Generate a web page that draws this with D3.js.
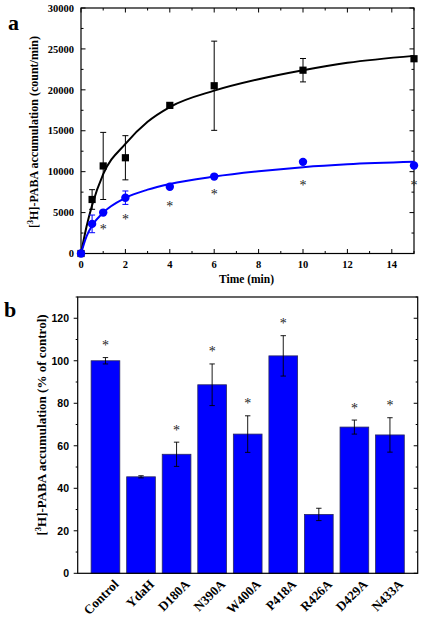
<!DOCTYPE html>
<html><head><meta charset="utf-8">
<script src="https://cdn.jsdelivr.net/npm/d3@7"></script>
<style>body{margin:0;background:#fff}svg{display:block}.star{opacity:0.99}</style>
</head><body>
<script>
// ---- Panel a data ----
const times = [0, 0.5, 1, 2, 4, 6, 10, 15];
const blackValues = [0, 6600, 10700, 11700, 18100, 20500, 22400, 23800];
const blackErrors = [0, 1200, 4100, 2700, 0, 5450, 1430, 0];
const blueValues = [0, 3620, 5000, 6820, 8150, 9400, 11200, 10750];
const blueErrors = [0, 1080, 0, 820, 0, 0, 0, 0];
const curveTimes = [0, 0.25, 0.5, 1, 2, 3, 4, 6, 8, 10, 12, 15];
const blackCurve = [0, 3300, 5900, 9700, 13400, 16100, 17900, 19900, 21300, 22400, 23300, 24150];
const blueCurve = [0, 2100, 3400, 5000, 6800, 7800, 8500, 9400, 10050, 10550, 10900, 11200];
const starTimesA = [1, 2, 4, 6, 10, 15];
const starLevelsA = [3200, 4450, 6000, 7400, 8550, 8600];
const xTicksA = [0, 2, 4, 6, 8, 10, 12, 14];
const yTicksA = [0, 5000, 10000, 15000, 20000, 25000, 30000];

// ---- Panel b data ----
const categories = ["Control", "YdaH", "D180A", "N390A", "W400A", "P418A", "R426A", "D429A", "N433A"];
const barValues = [100, 45.4, 56.0, 88.7, 65.5, 102.3, 27.7, 68.8, 65.1];
const barErrors = [1.5, 0.5, 5.7, 9.8, 8.6, 9.5, 2.9, 3.3, 8.1];
const barStars = [true, false, true, true, true, true, false, true, true];
const yTicksB = [0, 20, 40, 60, 80, 100, 120];

const W = 422, H = 618;
const svg = d3.select("body").append("svg").attr("width", W).attr("height", H);
const serif = "'Liberation Serif','Times New Roman',Times,serif";
const sans = "'Liberation Sans',Arial,Helvetica,sans-serif";
const BLUE = "#0000ff";

// ================= Panel a =================
const A = {l: 81, r: 414, t: 8, b: 253.5};
const xA = d3.scaleLinear().domain([0, 15]).range([A.l, A.r]);
const yA = d3.scaleLinear().domain([0, 30000]).range([A.b, A.t]);
const gA = svg.append("g");

// ticks (inward on all four sides)
const xMinorA = d3.range(0, 16, 1);
const yMinorA = d3.range(0, 30001, 2500);
xMinorA.forEach(v => {
  const len = v % 2 === 0 ? 4.5 : 2.5;
  gA.append("line").attr("x1", xA(v)).attr("x2", xA(v)).attr("y1", A.b).attr("y2", A.b - len).attr("stroke", "#000").attr("stroke-width", 1);
  gA.append("line").attr("x1", xA(v)).attr("x2", xA(v)).attr("y1", A.t).attr("y2", A.t + len).attr("stroke", "#000").attr("stroke-width", 1);
});
yMinorA.forEach(v => {
  const len = v % 5000 === 0 ? 4.5 : 2.5;
  gA.append("line").attr("x1", A.l).attr("x2", A.l + len).attr("y1", yA(v)).attr("y2", yA(v)).attr("stroke", "#000").attr("stroke-width", 1);
  gA.append("line").attr("x1", A.r).attr("x2", A.r - len).attr("y1", yA(v)).attr("y2", yA(v)).attr("stroke", "#000").attr("stroke-width", 1);
});
gA.append("rect").attr("x", A.l).attr("y", A.t).attr("width", A.r - A.l).attr("height", A.b - A.t)
  .attr("fill", "none").attr("stroke", "#000").attr("stroke-width", 1.2);

// tick labels
gA.selectAll(".xl").data(xTicksA).join("text")
  .attr("x", d => xA(d)).attr("y", 268).attr("text-anchor", "middle")
  .attr("font-family", serif).attr("font-weight", "bold").attr("font-size", 10.5).text(d => d);
gA.selectAll(".yl").data(yTicksA).join("text")
  .attr("x", 74).attr("y", d => yA(d)).attr("dy", "0.35em").attr("text-anchor", "end")
  .attr("font-family", serif).attr("font-weight", "bold").attr("font-size", 10.5).text(d => d);

// axis titles
gA.append("text").attr("x", xA(7.5) - 1).attr("y", 283).attr("text-anchor", "middle")
  .attr("font-family", serif).attr("font-weight", "bold").attr("font-size", 11.5).text("Time (min)");
const tA = gA.append("text").attr("transform", "translate(38,132) rotate(-90)").attr("text-anchor", "middle")
  .attr("font-family", serif).attr("font-weight", "bold").attr("font-size", 12);
tA.append("tspan").text("[");
tA.append("tspan").attr("font-size", 8).attr("dy", -5).text("3");
tA.append("tspan").attr("dy", 5).text("H]-PABA accumulation (count/min)");

gA.append("text").attr("x", 8).attr("y", 30).attr("font-family", serif).attr("font-weight", "bold").attr("font-size", 22).text("a");

// curves
const lineA = d3.line().x(d => xA(d[0])).y(d => yA(d[1])).curve(d3.curveMonotoneX);
gA.append("path").attr("d", lineA(curveTimes.map((t, i) => [t, blackCurve[i]])))
  .attr("fill", "none").attr("stroke", "#000").attr("stroke-width", 2);
gA.append("path").attr("d", lineA(curveTimes.map((t, i) => [t, blueCurve[i]])))
  .attr("fill", "none").attr("stroke", BLUE).attr("stroke-width", 2);

// error bars
function errBars(g, vals, errs, color) {
  times.forEach((t, i) => {
    if (!errs[i]) return;
    const x = xA(t), y1 = yA(vals[i] + errs[i]), y2 = yA(vals[i] - errs[i]);
    g.append("line").attr("x1", x).attr("x2", x).attr("y1", y1).attr("y2", y2).attr("stroke", color).attr("stroke-width", 1);
    [y1, y2].forEach(y => g.append("line").attr("x1", x - 3).attr("x2", x + 3).attr("y1", y).attr("y2", y).attr("stroke", color).attr("stroke-width", 1));
  });
}
errBars(gA, blackValues, blackErrors, "#000");
errBars(gA, blueValues, blueErrors, BLUE);

// markers
gA.selectAll(".sq").data(times.map((t, i) => [t, blackValues[i]])).join("rect")
  .attr("x", d => xA(d[0]) - 3.6).attr("y", d => yA(d[1]) - 3.6).attr("width", 7.2).attr("height", 7.2).attr("fill", "#000");
gA.selectAll(".ci").data(times.map((t, i) => [t, blueValues[i]])).join("circle")
  .attr("cx", d => xA(d[0])).attr("cy", d => yA(d[1])).attr("r", 4.2).attr("fill", BLUE);

// asterisks
const starsA = gA.append("g").attr("class", "star");
starsA.selectAll("text").data(starTimesA.map((t, i) => [t, starLevelsA[i]])).join("text")
  .attr("x", d => xA(d[0])).attr("y", d => yA(d[1]) + 6.5).attr("text-anchor", "middle")
  .attr("fill", "#222").attr("font-family", serif).attr("font-size", 14).text("*");

// ================= Panel b =================
const B = {l: 77.7, r: 417.7, t: 297, b: 573.3};
const xB = d3.scaleBand().domain(categories).range([B.l, B.r]).paddingInner(0.193).paddingOuter(0.377);
const yB = d3.scaleLinear().domain([0, 130]).range([B.b, B.t]);
const gB = svg.append("g");

d3.range(0, 131, 10).forEach(v => {
  const major = v % 20 === 0;
  gB.append("line").attr("x1", B.l).attr("x2", B.l - (major ? 4 : 2)).attr("y1", yB(v)).attr("y2", yB(v)).attr("stroke", "#000").attr("stroke-width", 1);
  gB.append("line").attr("x1", B.r).attr("x2", B.r - (major ? 4 : 2)).attr("y1", yB(v)).attr("y2", yB(v)).attr("stroke", "#000").attr("stroke-width", 1);
});

gB.selectAll(".bar").data(categories).join("rect")
  .attr("x", d => xB(d)).attr("width", xB.bandwidth())
  .attr("y", (d, i) => yB(barValues[i])).attr("height", (d, i) => yB(0) - yB(barValues[i]))
  .attr("fill", BLUE).attr("stroke", "#2a2a60").attr("stroke-width", 0.8);

gB.append("rect").attr("x", B.l).attr("y", B.t).attr("width", B.r - B.l).attr("height", B.b - B.t)
  .attr("fill", "none").attr("stroke", "#000").attr("stroke-width", 1.2);

const starsB = gB.append("g").attr("class", "star");
categories.forEach((c, i) => {
  const x = xB(c) + xB.bandwidth() / 2;
  const y1 = yB(barValues[i] + barErrors[i]), y2 = yB(barValues[i] - barErrors[i]);
  gB.append("line").attr("x1", x).attr("x2", x).attr("y1", y1).attr("y2", y2).attr("stroke", "#000").attr("stroke-width", 0.9);
  [y1, y2].forEach(y => gB.append("line").attr("x1", x - 2.7).attr("x2", x + 2.7).attr("y1", y).attr("y2", y).attr("stroke", "#000").attr("stroke-width", 0.9));
  if (barStars[i]) {
    starsB.append("text").attr("x", x).attr("y", y1 - 14 + 6.5).attr("text-anchor", "middle")
      .attr("fill", "#222").attr("font-family", serif).attr("font-size", 14).text("*");
  }
  gB.append("text").attr("transform", `translate(${x + 14},585) rotate(-45)`).attr("text-anchor", "end")
    .attr("font-family", serif).attr("font-weight", "bold").attr("font-size", 13).text(c);
});

gB.selectAll(".yl").data(yTicksB).join("text")
  .attr("x", 69).attr("y", d => yB(d)).attr("dy", "0.36em").attr("text-anchor", "end")
  .attr("font-family", sans).attr("font-weight", "bold").attr("font-size", 10.5).text(d => d);

const tB = gB.append("text").attr("transform", "translate(46,425) rotate(-90)").attr("text-anchor", "middle")
  .attr("font-family", serif).attr("font-weight", "bold").attr("font-size", 13);
tB.append("tspan").text("[");
tB.append("tspan").attr("font-size", 8.5).attr("dy", -5).text("3");
tB.append("tspan").attr("dy", 5).text("H]-PABA accumulation (% of control)");

gB.append("text").attr("x", 4).attr("y", 317).attr("font-family", serif).attr("font-weight", "bold").attr("font-size", 22).text("b");
</script>
</body></html>
